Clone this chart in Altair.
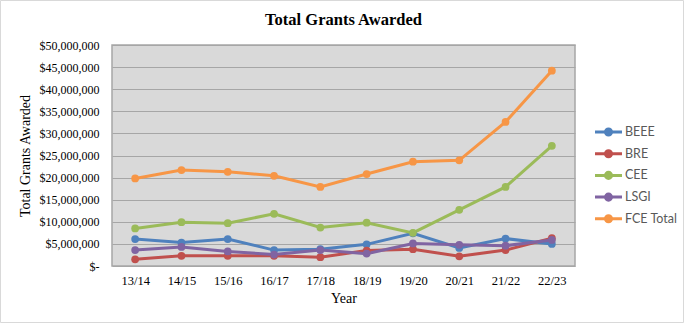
import altair as alt
import pandas as pd

years = ["13/14", "14/15", "15/16", "16/17", "17/18", "18/19", "19/20", "20/21", "21/22", "22/23"]
series = ["BEEE", "BRE", "CEE", "LSGI", "FCE Total"]
beee = [6.1, 5.3, 6.1, 3.6, 3.8, 4.9, 7.4, 4.1, 6.2, 5.0]
bre = [1.5, 2.3, 2.3, 2.3, 2.0, 3.5, 3.8, 2.2, 3.6, 6.3]
cee = [8.5, 9.9, 9.7, 11.8, 8.7, 9.8, 7.5, 12.7, 17.9, 27.2]
lsgi = [3.6, 4.3, 3.3, 2.6, 3.6, 2.8, 5.1, 4.8, 4.6, 5.9]
fce = [19.8, 21.7, 21.3, 20.4, 17.9, 20.8, 23.6, 23.9, 32.6, 44.2]
colors = ["#4F81BD", "#C0504D", "#9BBB59", "#8064A2", "#F79646"]

rows = []
for name, vals in zip(series, [beee, bre, cee, lsgi, fce]):
    for y, v in zip(years, vals):
        rows.append({"Year": y, "Series": name, "Value": v * 1_000_000})
df = pd.DataFrame(rows)

color = alt.Color(
    "Series:N",
    scale=alt.Scale(domain=series, range=colors),
    sort=series,
    legend=alt.Legend(
        title=None,
        orient="none",
        legendX=485.5,
        legendY=76,
        symbolType="M-1.42,0L1.42,0M-0.32,0A0.32,0.32,0,1,1,0.32,0A0.32,0.32,0,1,1,-0.32,0Z",
        symbolSize=361,
        symbolStrokeWidth=3,
        symbolFillColor=None,
        labelFont="Lato",
        labelFontSize=12.5,
        labelColor="#595959",
        labelOffset=5.5,
        rowPadding=0.7,
    ),
)

x = alt.X(
    "Year:N",
    sort=years,
    scale=alt.Scale(paddingInner=0, paddingOuter=0.5),
    axis=alt.Axis(
        title="Year",
        titleFont="Liberation Serif",
        titleFontSize=14,
        titleFontWeight="normal",
        titleColor="#000000",
        titlePadding=5,
        labelFont="Liberation Serif",
        labelFontSize=12.5,
        labelColor="#000000",
        labelAngle=0,
        labelPadding=8,
        ticks=False,
        domain=False,
        grid=False,
    ),
)
y = alt.Y(
    "Value:Q",
    scale=alt.Scale(domain=[0, 50_000_000], nice=False),
    axis=alt.Axis(
        title="Total Grants Awarded",
        titleFont="Liberation Serif",
        titleFontSize=14,
        titleFontWeight="normal",
        titleColor="#000000",
        titlePadding=7,
        labelFont="Liberation Serif",
        labelFontSize=12,
        labelColor="#000000",
        labelPadding=13,
        values=list(range(0, 50_000_001, 5_000_000)),
        labelExpr="datum.value == 0 ? '$-\u00a0\u00a0' : '$' + format(datum.value, ',')",
        ticks=False,
        domain=False,
        grid=True,
        gridColor="#A6A6A6",
        gridWidth=1.2,
    ),
)

lines = alt.Chart(df).mark_line(strokeWidth=3, clip=False).encode(x=x, y=y, color=color)
points = alt.Chart(df).mark_circle(size=60, opacity=1, clip=False).encode(x=x, y=y, color=color)

border = alt.Chart(pd.DataFrame({"a": [0]})).mark_rect(
    fill=None, stroke="#D9D9D9", strokeWidth=1, clip=False
).encode(
    x=alt.value(-111.5), x2=alt.value(684 - 112 - 0.5), y=alt.value(-44.5), y2=alt.value(323 - 45 - 0.5)
)

chart = alt.layer(border, lines, points).properties(
    width=463,
    height=221,
    padding={"left": 112, "top": 45, "right": 109, "bottom": 57},
    autosize=alt.AutoSizeParams(type="none"),
    background="#FFFFFF",
    title=alt.TitleParams(
        "Total Grants Awarded",
        font="Liberation Serif",
        fontSize=16.5,
        fontWeight="bold",
        color="#000000",
        anchor="middle",
        frame="group",
        offset=-28,
    ),
).configure_view(
    fill="#D9D9D9",
    stroke="#A6A6A6",
    strokeWidth=1.5,
)

chart.save("out.html", embed_options={"renderer": "svg", "actions": False})
